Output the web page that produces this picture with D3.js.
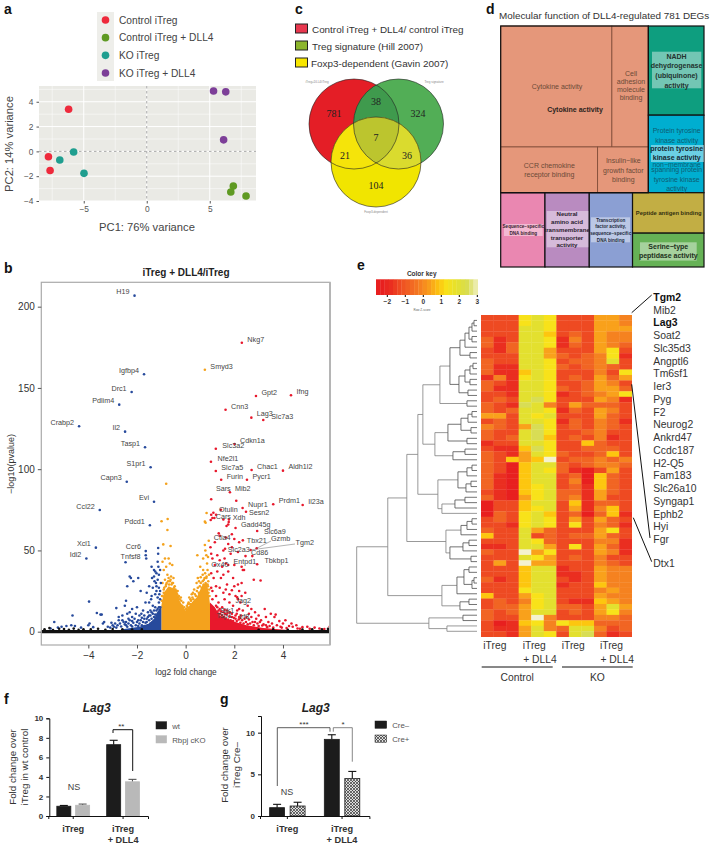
<!DOCTYPE html>
<html><head><meta charset="utf-8">
<script src="https://cdn.jsdelivr.net/npm/d3@7"></script>
<style>body{margin:0;background:#fff}svg{display:block;opacity:.999;font-family:"Liberation Sans",Arial,sans-serif}</style>
</head><body><svg id="c" width="711" height="848"></svg>
<script>
// ---------- panel a: PCA ----------
const pcaGroups=["Control iTreg","Control iTreg + DLL4","KO iTreg","KO iTreg + DLL4"];
const pcaColors=["#ee2a3c","#5f9a22","#1f9e8f","#7d3f98"];
const pcaPC1=[-6.2,-7.8,-7.67, 6.87,6.67,7.88, -5.8,-6.9,-4.98, 5.3,6.27,6.1];
const pcaPC2=[3.4,-0.43,-1.54, -2.8,-3.28,-3.6, -0.05,-0.7,-1.77, 4.87,4.8,0.93];
const pcaGroupIdx=[0,0,0,1,1,1,2,2,2,3,3,3];
// ---------- panel b: volcano ----------
const geneNames=["H19","Nkg7","Smyd3","Igfbp4","Drc1","Pdlim4","Crabp2","Il2","Tasp1","S1pr1","Gpt2","Ifng","Cnn3","Lag3","Slc7a3","Cdkn1a","Slc3a2","Nfe2l1","Slc7a5","Chac1","Aldh1l2","Capn3","Furin","Pycr1","Mib2","Sars","Nupr1","Prdm1","Il23a","Otulin","Cars","Sesn2","Xdh","Gadd45g","Slc6a9","Evi","Ccl22","Pdcd1","Ctla4","Tbx21","Gzmb","Tgm2","Slc2a3","Cd86","Entpd1","Tbkbp1","Ox40","Xcl1","Idi2","Ccr6","Tnfsf8","Jag2","Sik1","Tsp1","Irf8"];
const geneLog2FC=[-2.10,2.31,0.79,-1.71,-2.22,-2.73,-4.38,-2.49,-1.67,-1.44,2.89,4.33,1.64,2.70,3.19,2.01,1.24,1.04,1.24,2.71,4.0,-2.42,1.46,2.52,2.08,1.82,2.34,3.6,4.81,1.14,1.03,2.48,1.77,2.05,2.94,-1.3,-3.53,-1.47,1.36,2.35,2.92,2.67,1.62,2.74,2.46,2.94,1.75,-3.69,-4.08,-1.64,-2.47,2.12,1.34,1.27,2.23];
const genePval=[206.8,177.8,161.2,158.4,147.5,139.7,126.4,123.1,113.5,101.2,145,145.5,136.6,131.7,130.3,115.5,112.6,104.6,98.9,99.5,99.1,92.3,93.5,93.5,80.6,85.8,76.1,78.4,78,73.2,68.7,73.8,67.5,63.8,62,80,74.9,65.5,60.5,56.2,51.3,50.3,51,46.5,46.5,41.5,41,51.7,45,49.6,42.7,21.1,10.9,7.6,8.2];
const bluePts=[[-1.64,47],[-1.62,45],[-1.13,51.5],[-1.13,48],[-1.15,43],[-1.4,40],[-1.3,38],[-1.25,37],[-1.2,36],[-1.1,35],[-1.3,34],[-1.15,32],[-1.05,38],[-1.02,30],[-1.2,28],[-1.35,27],[-1.1,27],[-1.05,25],[-1.25,23],[-1.4,22],[-1.15,21],[-2.3,34],[-2.25,33],[-2.15,31],[-2.4,28],[-1.95,33],[-1.85,25],[-1.6,24],[-1.65,18],[-1.5,18],[-1.25,15],[-1.1,18],[-1.05,15],[-1.55,12],[-1.45,13],[-2.45,19],[-2.5,16],[-2.0,15],[-2.2,14],[-2.3,12],[-2.4,11],[-2.6,10],[-2.75,9],[-2.2,9],[-1.9,10],[-1.7,10],[-1.6,8],[-3.97,18.5],[-2.85,14.5],[-3.65,11.5],[-3.5,10.5],[-3.45,10.5],[-4.65,10],[-3.35,6],[-5.4,6],[-5.1,3],[-4.9,3.5],[-4.7,4],[-4.55,3.5],[-4.3,2.5],[-4,4],[-3.95,5],[-3.8,2.8],[-5.55,2],[-5.25,2.5],[-3.4,5],[-3.2,3],[-3,4],[-2.9,5],[-2.75,7],[-2.55,6],[-2.45,4],[-2.35,8],[-2.2,6.5],[-1.95,7],[-1.8,8.5],[-1.35,16],[-1.42,20],[-1.2,25],[-1.5,10],[-1.75,13],[-1.82,11],[-2.05,11],[-1.28,31],[-1.12,40],[-1.22,30],[-1.08,23],[-1.05,20],[-1.5,28],[-1.38,33],
[-3.1,2.5],[-3.05,5.5],[-2.95,3],[-2.85,2.5],[-2.8,4],[-2.7,5],[-2.65,3.2],[-2.6,7],[-2.5,4.5],[-2.45,6],[-2.4,3],[-2.35,5],[-2.3,7],[-2.25,4],[-2.2,3.2],[-2.15,5.5],[-2.1,8],[-2.05,4],[-2,6],[-1.95,3.5],[-1.9,5],[-1.85,7],[-1.8,4],[-1.75,6],[-1.7,3.5],[-1.7,8],[-1.65,5.5],[-1.6,6],[-1.55,4],[-1.55,9],[-1.5,7],[-1.45,5],[-1.45,10],[-1.4,8],[-1.4,12],[-1.35,6],[-1.35,11],[-1.3,9],[-1.3,13],[-1.25,10.5],[-1.2,13],[-1.15,14],[-1.15,11],[-1.1,15],[-1.1,12]];
const orangePts=[[-0.8,91],[-0.99,68],[-0.74,69.3],[-0.75,62.6],[-0.92,53.7],[-0.62,52.7],[-0.7,45],[-0.85,45],[-0.65,42],[-0.95,43],[-0.8,40],[-0.55,41],[-0.9,38],[-0.75,35],[-0.6,34],[-0.7,33],[-0.85,32],[-0.5,33],[-0.95,30],[-0.65,31],[-0.55,30],[-0.45,28],[-0.8,29],[-0.4,25],[-0.35,23],[-0.3,21],[-0.9,26],[-0.97,22],[0.86,73],[0.79,67.7],[0.82,67],[0.95,56],[0.79,53.3],[0.81,50],[0.48,47],[0.72,45],[0.85,47],[0.92,46],[0.88,42],[0.6,40],[0.72,38],[0.9,38],[0.8,36],[0.96,35],[0.7,35],[0.62,33.5],[0.5,33],[0.85,33],[0.45,30],[0.55,31],[0.75,32],[0.93,31],[0.3,24],[0.2,20],[0.35,26],[0.1,17],[-0.1,18],[-0.2,21],[0.05,16],[0.97,26],[0.92,28],[0.15,21],[0.25,23],
[-0.98,19],[-0.95,22],[-0.9,24],[-0.88,27],[-0.82,28],[-0.78,30],[-0.72,31],[-0.68,29],[-0.62,32],[-0.58,29],[-0.52,30],[-0.48,27],[-0.42,26],[-0.38,24],[-0.33,25],[-0.28,22],[-0.25,20],[-0.18,19],[-0.14,16],[-0.06,15],[0.02,14],[0.08,15],[0.12,18],[0.18,17],[0.22,19],[0.28,21],[0.32,20],[0.38,23],[0.42,22],[0.46,25],[0.5,27],[0.54,24],[0.58,28],[0.62,30],[0.66,27],[0.7,31],[0.74,29],[0.78,33],[0.82,30],[0.86,34],[0.9,29],[0.94,24],[0.98,22]];
const redPts=[[1.05,81.5],[1.18,70],[1.05,72],[1.1,70],[1.25,72],[1.45,75],[1.55,69],[1.75,66],[1.78,69],[1.9,60],[1.65,58],[1.4,59],[2.0,57],[1.9,52],[1.55,50],[1.3,47],[1.6,45],[1.85,48],[2.15,49],[1.4,44],[1.65,42],[2.0,41],[2.3,40],[1.1,45],[1.2,41],[1.5,40],[1.05,36],[1.3,37],[1.15,33],[1.55,35],[1.75,37],[1.95,33],[2.35,38],[2.4,38],[2.8,32],[3.08,31.5],[2.15,29],[2.3,30],[2.0,28],[1.7,29],[1.25,28],[1.4,27],[1.1,25],[1.05,27],[1.65,26],[1.55,24],[1.9,25.5],[2.05,22],[2.15,20],[2.25,18],[2.2,14],[2.3,22],[1.8,18],[1.6,20],[1.35,18],[1.1,20],[1.5,15],[1.7,13],[1.95,16],[2.35,13],[2.55,16],[2.7,14],[2.85,12],[3.0,10],[2.6,11],[3.25,14],[3.5,11],[3.7,10.5],[3.65,9],[3.3,9],[3.85,6.5],[4.1,7],[4.35,5],[4.55,4],[4.0,5],[3.4,6],[3.1,7],[2.9,8],[2.5,9],[2.2,9],[1.9,9],[5.0,3],[5.3,2.5],[5.5,2],[5.92,3],[4.8,2.8],[4.6,2],[4.25,3.5],[1.68,65],[1.02,52],[1.2,55],[1.75,54],[2.2,55],[1.05,48],[1.45,33],[1.25,22],[1.8,23],[2.45,24],[2.2,25],[1.3,12],[1.62,11],[2.1,11],[2.05,8],[2.75,6],[3.55,5],[3.9,3],[3.2,4.5],
[1.25,16],[1.3,15],[1.35,13],[1.4,14],[1.42,11],[1.45,12.5],[1.5,10],[1.55,12],[1.58,9],[1.6,13.5],[1.65,8],[1.68,10.5],[1.72,11.5],[1.75,7.5],[1.8,9.5],[1.82,12],[1.85,7],[1.9,11],[1.95,6.5],[1.98,8.5],[2.05,10],[2.1,6.5],[2.12,13],[2.18,7.5],[2.25,5.5],[2.28,10],[2.32,7],[2.38,5],[2.42,8],[2.48,6],[2.55,4.5],[2.6,7.5],[2.65,5],[2.7,9],[2.8,4],[2.85,6],[2.95,5],[3.0,3.5],[3.05,6],[3.15,3.8],[3.3,4],[3.35,2.8],[3.45,3.5],[3.6,2.5],[3.75,4],[3.95,2.5],[4.15,2.2],[4.4,3],[4.7,1.8],[5.1,1.8],[5.7,1.6]];
const blackPts=[[-5.8,1.5],[-5.6,2.2],[-5.45,1],[-5.2,1.8],[-5,1.6],[-4.8,1.2],[-4.6,1.9],[-4.4,1.1],[-4.2,1.5],[-3.9,1.4],[-3.6,1.8],[-3.3,1.2],[-3,1.6],[-2.6,1.5],[-2.2,1.3],[-1.8,1.4],[3,1.2],[3.6,1.4],[4.2,1.2],[4.8,1.3],[5.2,1.5],[5.6,1.4],[5.85,1.7]];
// envelopes of the solid-filled core of the cloud: [log2FC, upper -log10 p]
const orangeCore=[[-1,16],[-0.9,24],[-0.7,28],[-0.4,26],[-0.25,19],[0,13],[0.25,18],[0.45,21],[0.7,29],[0.88,30],[0.96,22],[1,17]];
const blueCore=[[-2.6,1.5],[-1.9,3],[-1.5,5],[-1.3,8],[-1.2,11],[-1.05,15],[-1,16]];
const redCore=[[1,18],[1.2,15],[1.4,10],[1.9,6.5],[2.5,4],[3.2,2.2],[4.2,1],[5.9,0.8]];
const blackBand=[[-5.93,1],[5.93,1]];
// ---------- panel c: Venn ----------
const vennLegend=["Control iTreg + DLL4/ control iTreg","Treg signature (Hill 2007)","Foxp3-dependent (Gavin 2007)"];
const vennLegendColors=["#e8384f","#8cb52c","#f7e600"];
const vennCounts=["781","38","324","7","21","36","104"];
// ---------- panel d: treemap ----------
const cytoAreas=[13317,4367,4391,2298];
const rightAreas=[4912,4273];
const bottomAreas=[3256,3256,3182];
const peptideAreas=[2860,2395];
const treeColors=["#e5977a","#0e9e7f","#00aed0","#ea87b1","#b98bc0","#8b9fd3","#c2ae44","#66b256"];
// ---------- panel e: heatmap ----------
const heatZ=[-2.4,-1.9,-1.4,-0.8,-0.2,0.3,0.8,1.2,1.8,2.4,3];
const heatColors=["#e81f1f","#ea2e20","#ee4a22","#f16523","#f58220","#f9a11b","#fdc60f","#f8e21a","#e3e02f","#d8dd55","#f4f2cf"];
const heatRows=["222787222554","222787222554","222887222555","222886232544","312887142544","313887132543","213885222572","222885323471","322887233482","311887323432","311687222427","141787232535","321887223542","311887323553","221887123457","232897222541","321984253332","323887132542","552878222532","232887132431","432597232432","322897223422","323896232412","122887226322","211697223332","321587322362","32656a233434","320688323443","320687310252","310688230632","310688240632","310678231632","210678331532","310578341522","022688261332","022678251462","032786230361","232787252532","221787272431","322853222572","622823233532","222873222441","112885272531","322a57222541","222875232422","252a55222432","222688122544","222688112544","312688212544","222688122644","222788222454","622578222544","232478211654","233578332585","323588232574","3225a4222443","201674766333","211584388423","221587289312"];
const colLabels=["iTreg","iTreg","iTreg","iTreg"];
const rightGenes=["Tgm2","Mib2","Lag3","Soat2","Slc35d3","Angptl6","Tm6sf1","Ier3","Pyg","F2","Neurog2","Ankrd47","Ccdc187","H2-Q5","Fam183","Slc26a10","Syngap1","Ephb2","Hyi","Fgr"];
// dendrogram: [merge height, child, child], 0 = leaf
const U=[17,[12,[8,[5,[3,0,0],0],[5,0,0]],0],[7,0,0]];
const V=[18,[12,[7,[4,0,0],0],[7,0,0]],[9,0,0]];
const P=[37,[27,U,V],[10,0,0]];
const G2=[42,[29,[16,[9,[5,0,0],0],[6,0,0]],[10,0,0]],[24,[12,0,0],0]];
const G3=[39,[19,[10,[5,0,0],0],[11,[6,0,0],0]],[35,[22,[12,0,0],0],0]];
const G4=[31,[16,[10,[5,0,0],0],0],[27,[14,[8,0,0],0],[6,0,0]]];
const G5=[35,[20,[13,[8,0,0],[5,[3,0,0],0]],0],[17,[8,0,0],0]];
const G6=[48,[14,0,0],[30,0,0]];
const dendro=[120,[89,[70,[59,[54,P,G2],G3],G4],G5],G6];
// ---------- panels f, g: bars ----------
const barGroups=["iTreg","iTreg + DLL4"];
const fSeries=["wt","Rbpj cKO"];
const fMeans=[[1,1.1],[7.3,3.5]];
const fErr=[[1.08,1.22],[7.75,3.75]];
const gSeries=["Cre–","Cre+"];
const gMeans=[[1,1.2],[9.2,4.5]];
const gErr=[[1.4,1.65],[9.75,5.35]];

// ---------- drawing ----------
const svg=d3.select("#c");
const defs=svg.append("defs");
const T=(sel,s,x,y,o={})=>{const t=sel.append("text").attr("x",x).attr("y",y).text(s)
 .attr("font-size",o.size||10).attr("fill",o.fill||"#333").attr("text-anchor",o.anchor||"start");
 if(o.bold)t.attr("font-weight","bold"); if(o.italic)t.attr("font-style","italic");
 if(o.rot!==undefined)t.attr("transform",`rotate(${o.rot} ${x} ${y})`); if(o.font)t.attr("font-family",o.font); return t;};
[["a",4,14],["b",4,273],["c",295,14],["d",486,14],["e",357,270],["f",4,704],["g",220,704]].forEach(d=>T(svg,d[0],d[1],d[2],{size:14,bold:1,fill:"#111"}));

// a
(function(){
 const g=svg.append("g");
 const x=d3.scaleLinear().domain([-8.55,8.67]).range([39,256]);
 const y=d3.scaleLinear().domain([-4,5.27]).range([201,86]);
 g.append("rect").attr("x",97).attr("y",12).attr("width",17).attr("height",69).attr("fill","#eeeeea");
 const ly=d3.scalePoint().domain(pcaGroups).range([20,73]);
 pcaGroups.forEach((s,i)=>{g.append("circle").attr("cx",105.5).attr("cy",ly(s)).attr("r",3.8).attr("fill",pcaColors[i]);
  T(g,s,119,ly(s)+3.6,{size:10.2,fill:"#444"});});
 g.append("rect").attr("x",39).attr("y",86).attr("width",217).attr("height",115).attr("fill","#eaeae5");
 const gl=(x1,y1,x2,y2,w)=>g.append("line").attr("x1",x1).attr("y1",y1).attr("x2",x2).attr("y2",y2).attr("stroke","#fff").attr("stroke-width",w);
 [-7.5,-2.5,2.5,7.5].forEach(v=>gl(x(v),86,x(v),201,.5));[-3,-1,1,3,5].forEach(v=>gl(39,y(v),256,y(v),.5));
 [-5,0,5].forEach(v=>gl(x(v),86,x(v),201,1));[-4,-2,0,2,4].forEach(v=>gl(39,y(v),256,y(v),1));
 g.append("line").attr("x1",39).attr("x2",256).attr("y1",y(0)).attr("y2",y(0)).attr("stroke","#aaa").attr("stroke-dasharray","2.5 2.5");
 g.append("line").attr("x1",x(0)).attr("x2",x(0)).attr("y1",86).attr("y2",201).attr("stroke","#aaa").attr("stroke-dasharray","2.5 2.5");
 g.selectAll("circle.p").data(pcaPC1).join("circle").attr("class","p").attr("cx",d=>x(d)).attr("cy",(d,i)=>y(pcaPC2[i])).attr("r",3.8).attr("fill",(d,i)=>pcaColors[pcaGroupIdx[i]]);
 const ax=g.append("g").attr("transform","translate(0,201)").call(d3.axisBottom(x).tickValues([-5,0,5]).tickSize(2.5).tickFormat(d=>String(d).replace("-","−")));
 const ay=g.append("g").attr("transform","translate(39,0)").call(d3.axisLeft(y).tickValues([-4,-2,0,2,4]).tickSize(2.5).tickFormat(d=>String(d).replace("-","−")));
 [ax,ay].forEach(a=>{a.select(".domain").remove();a.selectAll("text").attr("font-size",8.4).attr("fill","#555").attr("font-family","Liberation Sans");a.selectAll("line").attr("stroke","#555");});
 T(g,"PC1: 76% variance",147,231,{size:11.2,anchor:"middle",fill:"#444"});
 T(g,"PC2: 14% variance",13,144,{size:11.2,anchor:"middle",rot:-90,fill:"#444"});
})();

// b
(function(){
 const g=svg.append("g");
 const L=41.3,R=330,Tp=282.3,B=645;
 const x=d3.scaleLinear().domain([-5.933,5.933]).range([L,R]);
 const y=d3.scaleLinear().domain([-8.2,215]).range([B,Tp]);
 defs.append("clipPath").attr("id","vb").append("rect").attr("x",L).attr("y",Tp).attr("width",R-L).attr("height",B-Tp);
 const pl=g.append("g").attr("clip-path","url(#vb)");
 const area=d3.area().x(d=>x(d[0])).y0(y(0)).y1(d=>y(d[1]));
 const pts=(arr,c)=>pl.append("g").selectAll("circle").data(arr).join("circle").attr("cx",d=>x(d[0])).attr("cy",d=>y(d[1])).attr("r",1.3).attr("fill",c);
 pl.append("path").datum(orangeCore).attr("d",area).attr("fill","#f4a21d");
 pts(orangePts,"#f4a21d");
 pl.append("path").datum(blueCore).attr("d",area).attr("fill","#274a9c");
 pts(bluePts,"#274a9c");
 pl.append("path").datum(redCore).attr("d",area).attr("fill","#e8182c");
 pts(redPts,"#e8182c");
 pl.append("path").datum(blackBand).attr("d",d3.area().x(d=>x(d[0])).y0(y(-1)).y1(d=>y(d[1]))).attr("fill","#111");
 pts(blackPts,"#111");
 const col=(fc)=>Math.abs(fc)<1?"#f4a21d":(fc<0?"#274a9c":"#e8182c");
 pl.append("g").selectAll("circle").data(geneNames).join("circle").attr("cx",(d,i)=>x(geneLog2FC[i])).attr("cy",(d,i)=>y(genePval[i])).attr("r",1.3).attr("fill",(d,i)=>col(geneLog2FC[i]));
 [["Gzmb",271,541],["Tgm2",295,544]].forEach(l=>{const i=geneNames.indexOf(l[0]);g.append("line").attr("x1",x(geneLog2FC[i])).attr("y1",y(genePval[i])).attr("x2",l[1]).attr("y2",l[2]).attr("stroke","#666").attr("stroke-width",.5);});
 const off={Slc6a9:[6.7,3],Sesn2:[3,3],Xdh:[4,-2],Ctla4:[-5,7],Tbx21:[4,2.5],Gzmb:[14.3,-7],Tgm2:[45,-5],Slc2a3:[2.7,3],Cd86:[-1.3,-1],Entpd1:[-12,7.5],Tbkbp1:[7.3,-1],Ox40:[-17,1.7],Mib2:[-1.3,-9.5],Jag2:[-1.7,6],Sik1:[2,-1],Tsp1:[0,-1.5],Irf8:[-1,1],Tnfsf8:[-5,-3],Ccr6:[-20,-2.5],Sars:[-14,-1.5],Cars:[5,-1],Nfe2l1:[6.5,-1],Slc3a2:[6.5,-1],Slc7a3:[8,-1.2]};
 geneNames.forEach((n,i)=>{const px=x(geneLog2FC[i]),py=y(genePval[i]);const o=off[n];
  if(o)T(g,n,px+o[0],py+o[1],{size:7.2,fill:"#444"});
  else if(geneLog2FC[i]<0)T(g,n,px-5,py-1.2,{size:7.2,fill:"#444",anchor:"end"});
  else T(g,n,px+5.5,py-1.2,{size:7.2,fill:"#444"});});
 g.append("rect").attr("x",L).attr("y",Tp).attr("width",R-L).attr("height",B-Tp).attr("fill","none").attr("stroke","#aaa").attr("stroke-width",1.2);
 g.append("line").attr("x1",R).attr("x2",R).attr("y1",Tp).attr("y2",B).attr("stroke","#b5b5b5").attr("stroke-width",2);
 const ax=g.append("g").attr("transform",`translate(0,${B})`).call(d3.axisBottom(x).tickValues([-4,-2,0,2,4]).tickSize(3.5).tickFormat(d=>String(d).replace("-","−")));
 const ay=g.append("g").attr("transform",`translate(${L},0)`).call(d3.axisLeft(y).tickValues([0,50,100,150,200]).tickSize(3.5));
 [ax,ay].forEach(a=>{a.select(".domain").remove();a.selectAll("text").attr("font-size",10).attr("fill","#333").attr("font-family","Liberation Sans");a.selectAll("line").attr("stroke","#555");});
 T(g,"iTreg + DLL4/iTreg",186,276,{size:10,bold:1,anchor:"middle",fill:"#222"});
 T(g,"log2 fold change",186,675,{size:8.4,anchor:"middle"});
 T(g,"−log10(pvalue)",14,464,{size:9,anchor:"middle",rot:-90});
})();

// c
(function(){
 const g=svg.append("g");
 vennLegend.forEach((s,i)=>{const yy=[24,41,58][i];
  g.append("rect").attr("x",295.5).attr("y",yy).attr("width",12).attr("height",9).attr("fill",vennLegendColors[i]).attr("stroke","#222").attr("stroke-width",1);
  T(g,s,[312,312,311][i],yy+9,{size:9.9,fill:"#333"});});
 const C=[[354,124],[398.5,124],[376,162]],r=45;
 const circ=(p,par,fill,stroke)=>par.append("circle").attr("cx",p[0]).attr("cy",p[1]).attr("r",r).attr("fill",fill).attr("stroke",stroke||"none").attr("stroke-width",.6);
 C.forEach((p,i)=>defs.append("clipPath").attr("id","vc"+i).append("circle").attr("cx",p[0]).attr("cy",p[1]).attr("r",r));
 circ(C[0],g,"#e41e26");circ(C[1],g,"#52ae56");circ(C[2],g,"#f1e500");
 circ(C[1],g.append("g").attr("clip-path","url(#vc0)"),"#3f9a4d");
 circ(C[0],g.append("g").attr("clip-path","url(#vc2)"),"#f5e40a");
 circ(C[1],g.append("g").attr("clip-path","url(#vc2)"),"#dadb2e");
 circ(C[1],g.append("g").attr("clip-path","url(#vc2)").append("g").attr("clip-path","url(#vc0)"),"#bcc52e");
 C.forEach(p=>circ(p,g,"none","#222"));
 const pos=[[334,117],[376,105],[418,117],[376,141],[345,159],[407,159],[376,189]];
 vennCounts.forEach((s,i)=>T(g,s,pos[i][0],pos[i][1],{size:10,anchor:"middle",font:"Liberation Serif",fill:"#222"}));
 T(g,"iTreg+DLL4/iTreg",317,83,{size:3,anchor:"middle",fill:"#888"});
 T(g,"Treg signature",434,83,{size:3,anchor:"middle",fill:"#888"});
 T(g,"Foxp3-dependent",376,213,{size:3,anchor:"middle",fill:"#888"});
})();

// d
(function(){
 const g=svg.append("g").attr("transform","translate(500.7,26)");
 T(svg,"Molecular function of DLL4-regulated 781 DEGs",499,18.5,{size:9.9,fill:"#333"});
 const leaf=(v,c,b)=>({value:v,c,b});
 const data={t:"slice",children:[
  {t:"dice",children:[
   {t:"slice",grp:1,children:[{t:"dice",children:[leaf(cytoAreas[0],0),leaf(cytoAreas[1],0)]},{t:"dice",children:[leaf(cytoAreas[2],0),leaf(cytoAreas[3],0)]}]},
   {t:"slice",children:[leaf(rightAreas[0],1,1),leaf(rightAreas[1],2,1)]}]},
  {t:"dice",children:[leaf(bottomAreas[0],3,1),leaf(bottomAreas[1],4,1),leaf(bottomAreas[2],5,1),
   {t:"slice",children:[leaf(peptideAreas[0],6,1),leaf(peptideAreas[1],7,1)]}]}]};
 const root=d3.hierarchy(data).sum(d=>d.value||0);
 const tile=(n,x0,y0,x1,y1)=>(n.data.t==="dice"?d3.treemapDice:d3.treemapSlice)(n,x0,y0,x1,y1);
 d3.treemap().size([203.3,241]).tile(tile)(root);
 const lv=root.leaves();
 g.selectAll("rect.l").data(lv).join("rect").attr("x",d=>d.x0).attr("y",d=>d.y0).attr("width",d=>d.x1-d.x0).attr("height",d=>d.y1-d.y0)
  .attr("fill",d=>treeColors[d.data.c]).attr("stroke",d=>d.data.b?"#111":"#7d4a36").attr("stroke-width",d=>d.data.b?1.2:.8);
 const grp=root.descendants().find(d=>d.data.grp);
 g.append("rect").attr("x",grp.x0).attr("y",grp.y0).attr("width",grp.x1-grp.x0).attr("height",grp.y1-grp.y0).attr("fill","none").attr("stroke","#111").attr("stroke-width",1.2);
 const box=(x,y,w,h)=>svg.append("rect").attr("x",x).attr("y",y).attr("width",w).attr("height",h).attr("fill","#fff").attr("fill-opacity",.42);
 box(652,51.7,49.3,36.6);box(651,145,53,17);box(504,224,38.7,12);box(546.7,211,41.7,36.3);box(591,217.3,39,25);box(640,242.3,56.7,18.3);
 const L=(arr,cx,size,col,bold)=>arr.forEach(a=>T(svg,a[0],cx,a[1]+size*.36,{size,anchor:"middle",fill:col,bold}));
 const br="#6b4a38";
 L([["Cytokine activity",86.3]],557,7,br);
 L([["Cytokine activity",109.3]],575,7,"#2c2420",1);
 L([["Cell",73],["adhesion",81.3],["molecule",89.7],["binding",97.7]],631,7,br);
 L([["CCR chemokine",165],["receptor binding",174.7]],549.3,7,br);
 L([["Insulin−like",160.3],["growth factor",170],["binding",179.7]],623.3,7,br);
 L([["NADH",56],["dehydrogenase",65.7],["(ubiquinone)",75.3],["activity",85]],676.5,7,"#22332e",1);
 const tb="#0e5c72";
 L([["Protein tyrosine",130.7],["kinase activity",140.3],["non−membrane",164.3],["spanning protein",170],["tyrosine kinase",179.3],["activity",189]],676.7,6.9,tb);
 L([["protein tyrosine",148.7],["kinase activity",157.3]],676.7,7,"#152a33",1);
 L([["Sequence−specific",226.7],["DNA binding",233.3]],523.3,4.6,"#3a2430",1);
 L([["Neutral",214.3],["amino acid",222],["transmembrane",230],["transporter",237.7],["activity",245.3]],567,6.1,"#2c2230",1);
 L([["Transcription",220],["factor activity,",226.7],["sequence−specific",233.3],["DNA binding",240]],610.7,4.6,"#222a3c",1);
 L([["Peptide antigen binding",213.3]],668.7,5.8,"#33300f",1);
 L([["Serine−type",246],["peptidase activity",255.7]],668.3,7,"#20301a",1);
})();

// e
(function(){
 const g=svg.append("g");
 const color=d3.scaleLinear().domain(heatZ).range(heatColors).clamp(true);
 const keyX=d3.scaleLinear().domain([-2.6,3.05]).range([376,477.7]);
 const steps=d3.range(-2.6,3.05,5.65/24);
 g.selectAll("rect.k").data(steps).join("rect").attr("x",d=>keyX(d)).attr("y",279.3).attr("width",5.65/24*18+.3).attr("height",15.7).attr("fill",d=>color(d));
 const ak=g.append("g").attr("transform","translate(0,295)").call(d3.axisBottom(keyX).tickValues([-2,-1,0,1,2,3]).tickSize(2).tickFormat(d=>String(d).replace("-","−")));
 ak.select(".domain").remove();ak.selectAll("text").attr("font-size",6.5).attr("font-weight","bold").attr("fill","#333").attr("font-family","Liberation Sans");ak.selectAll("text").attr("y",4);
 T(g,"Color key",421.7,276,{size:6.5,bold:1,anchor:"middle"});
 T(g,"Row Z-score",422,311,{size:3,anchor:"middle",fill:"#666"});
 const HX0=481,HX1=631.7,HY0=315,HY1=636.7;
 const rows=d3.range(heatRows.length),cols=d3.range(12);
 const xs=d3.scaleBand().domain(cols).range([HX0,HX1]);
 const ys=d3.scaleBand().domain(rows).range([HY0,HY1]);
 rows.forEach(r=>g.append("g").selectAll("rect").data(cols).join("rect").attr("x",c=>xs(c)).attr("y",ys(r)).attr("width",xs.bandwidth()+.3).attr("height",ys.bandwidth()+.3)
   .attr("fill",c=>color(heatZ[parseInt(heatRows[r][c],16)])));
 const kids=d=>Array.isArray(d)?d.slice(1):null;
 const root=d3.hierarchy(dendro,kids);
 d3.cluster().size([ys.step()*(root.leaves().length-1),1]).separation(()=>1)(root);
 const hx=d3.scaleLinear().domain([0,120]).range([477,356.7]);
 const nx=d=>hx(Array.isArray(d.data)?d.data[0]:0), ny=d=>HY0+ys.bandwidth()/2+d.x;
 const linkPath=l=>`M${nx(l.target)},${ny(l.target)}H${nx(l.source)}V${ny(l.source)}`;
 g.append("g").selectAll("path").data(root.links()).join("path").attr("d",linkPath).attr("fill","none").attr("stroke",l=>(Array.isArray(l.source.data)&&l.source.data[0]>=30)?"#777":"#444").attr("stroke-width",.75);
 const gy=d3.scalePoint().domain(rightGenes).range([300.8,543]);
 rightGenes.forEach(n=>T(g,n,653.3,gy(n),{size:10.4,bold:(n==="Tgm2"||n==="Lag3"),fill:(n==="Tgm2"||n==="Lag3")?"#111":"#333"}));
 T(g,"Dtx1",653.3,566.8,{size:10.4});
 [[631.7,312.7,651.7,295],[631.7,384.3,650,538],[633.3,517.7,651.7,561.7]].forEach(l=>g.append("line").attr("x1",l[0]).attr("y1",l[1]).attr("x2",l[2]).attr("y2",l[3]).attr("stroke","#111").attr("stroke-width",1));
 [483.3,522.7,561.7,600].forEach((x0,i)=>{T(g,colLabels[i],x0,649,{size:10.3});if(i%2)T(g,"+ DLL4",x0+.5,662.7,{size:10.3});});
 [[481.7,552.7,"Control"],[562,632.7,"KO"]].forEach(d=>{g.append("line").attr("x1",d[0]).attr("x2",d[1]).attr("y1",667).attr("y2",667).attr("stroke","#111").attr("stroke-width",1);
  T(g,d[2],(d[0]+d[1])/2,680.7,{size:10.3,anchor:"middle"});});
})();

// f, g
defs.append("pattern").attr("id","hatch").attr("width",3).attr("height",3).attr("patternUnits","userSpaceOnUse").call(p=>{
 p.append("rect").attr("width",3).attr("height",3).attr("fill","#ddd");
 p.append("path").attr("d","M0,3L3,0M0,0L3,3").attr("stroke","#333").attr("stroke-width",.7);});
function bars(o){
 const g=svg.append("g");
 const x0=d3.scaleBand().domain(barGroups).range(o.xr);
 const inner=d3.scaleBand().domain(o.series).range([x0.bandwidth()/2-o.step*(2-o.pad)/2,x0.bandwidth()/2+o.step*(2-o.pad)/2]).paddingInner(o.pad);
 const y=d3.scaleLinear().domain(o.dom).range([816,o.top]);
 barGroups.forEach((b,i)=>o.series.forEach((s,j)=>{
  const xx=x0(b)+inner(s),w=inner.bandwidth(),cx=xx+w/2;
  g.append("line").attr("x1",cx).attr("x2",cx).attr("y1",y(o.means[i][j])).attr("y2",y(o.err[i][j])).attr("stroke",o.errCol[j]).attr("stroke-width",1.1);
  g.append("line").attr("x1",cx-4).attr("x2",cx+4).attr("y1",y(o.err[i][j])).attr("y2",y(o.err[i][j])).attr("stroke",o.errCol[j]).attr("stroke-width",1.1);
  g.append("rect").attr("x",xx).attr("y",y(o.means[i][j])).attr("width",w).attr("height",816-y(o.means[i][j])).attr("fill",o.fills[j]).attr("stroke",o.strokes[j]).attr("stroke-width",.8);
 }));
 const ay=g.append("g").attr("transform",`translate(${o.xr[0]+1},0)`).call(d3.axisLeft(y).tickValues(o.ticks).tickSize(3));
 const ax=g.append("g").attr("transform","translate(0,816)").call(d3.axisBottom(x0).tickSize(3).tickFormat(""));
 [ax,ay].forEach(a=>{a.select(".domain").attr("stroke","#111").attr("stroke-width",1);a.selectAll("line").attr("stroke","#111");a.selectAll("text").attr("font-size",8).attr("font-weight","bold").attr("fill","#333").attr("font-family","Liberation Sans");});
 barGroups.forEach(b=>{const c=x0(b)+x0.bandwidth()/2;
  T(g,"iTreg",c,832,{size:9.2,bold:1,anchor:"middle"});
  if(b!=="iTreg")T(g,"+ DLL4",c,843,{size:9.2,bold:1,anchor:"middle"});});
 T(g,"Lag3",o.tx,711.5,{size:12,bold:1,italic:1,anchor:"middle",fill:"#222"});
 o.ylab.forEach((s,i)=>T(g,s,o.yx[i],o.yc,{size:9.8,anchor:"middle",rot:-90}));
 T(g,"NS",o.ns[0],o.ns[1],{size:9,anchor:"middle",fill:"#444"});
 o.series.forEach((s,j)=>{g.append("rect").attr("x",o.lx).attr("y",o.ly[j]).attr("width",o.lw).attr("height",7.3).attr("fill",o.fills[j]).attr("stroke",o.strokes[j]).attr("stroke-width",.5);
  T(g,s,o.lx+o.lw+5.5,o.ly[j]+7,{size:7.8,fill:"#555"});});
 return g;
}
const gf=bars({xr:[48.3,148],series:fSeries,means:fMeans,err:fErr,dom:[0,10],top:718.3,ticks:[0,2,4,6,8,10],step:18.8,pad:.255,
 fills:["#1c1c1c","#b9b9b9"],strokes:["#1c1c1c","#b9b9b9"],errCol:["#111","#555"],tx:96.7,ylab:["Fold change over","iTreg in wt control"],yx:[16,28],yc:767,ns:[74,790],lx:156,ly:[721.7,735.7],lw:10.7});
gf.append("path").attr("d","M113,733V729.7H132.7V771").attr("fill","none").attr("stroke","#111").attr("stroke-width",1);
T(gf,"**",121.3,729,{size:8,anchor:"middle"});
const gg=bars({xr:[260,369.4],series:gSeries,means:gMeans,err:gErr,dom:[0,12],top:716,ticks:[0,5,10],step:20.5,pad:.27,
 fills:["#1c1c1c","url(#hatch)"],strokes:["#1c1c1c","#222"],errCol:["#111","#111"],tx:315.7,ylab:["Fold change over","iTreg Cre–"],yx:[228,240],yc:765,ns:[287,795],lx:375,ly:[721,735],lw:11.7});
gg.append("path").attr("d","M277.3,786V727.7H330V731.7").attr("fill","none").attr("stroke","#333").attr("stroke-width",.8);
gg.append("path").attr("d","M333.3,731.7V727.7H352.3V761.7").attr("fill","none").attr("stroke","#555").attr("stroke-width",.7);
T(gg,"***",304,727,{size:8,anchor:"middle"});
T(gg,"*",343,727,{size:8,anchor:"middle"});
</script></body></html>
